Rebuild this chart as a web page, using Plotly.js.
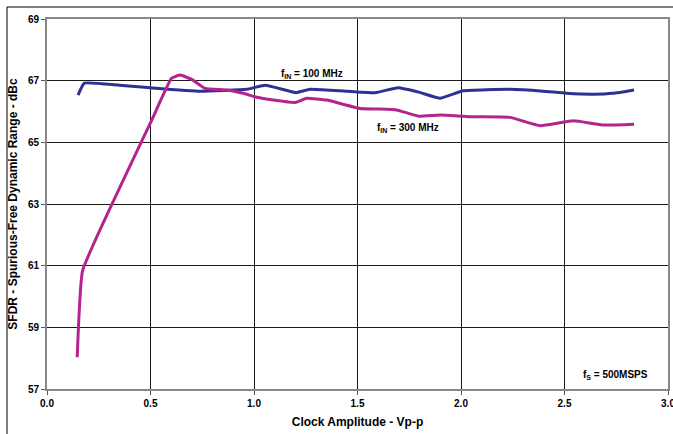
<!DOCTYPE html>
<html>
<head>
<meta charset="utf-8">
<script src="https://cdn.plot.ly/plotly-3.0.1.min.js"></script>
<style>html,body{margin:0;padding:0;background:#fff;}#chart{width:673px;height:434px;}</style>
</head>
<body>
<div id="chart"></div>
<script>
// Clock amplitude (Vp-p) and SFDR (dBc)
var x100 = [0.15, 0.18, 0.35, 0.50, 0.74, 0.965, 1.056, 1.203, 1.27, 1.415, 1.585, 1.696, 1.80, 1.899, 2.01, 2.237, 2.396, 2.51, 2.64, 2.735, 2.836];
var y100 = [66.53, 66.92, 66.85, 66.77, 66.66, 66.72, 66.85, 66.61, 66.72, 66.67, 66.61, 66.77, 66.62, 66.43, 66.67, 66.72, 66.66, 66.59, 66.56, 66.59, 66.70];
var x300 = [0.146, 0.172, 0.369, 0.506, 0.602, 0.643, 0.699, 0.763, 0.868, 0.948, 1.013, 1.093, 1.198, 1.255, 1.351, 1.512, 1.60, 1.689, 1.794, 1.899, 2.043, 2.237, 2.382, 2.543, 2.688, 2.836];
var y300 = [58.03, 60.84, 63.78, 65.72, 67.08, 67.18, 67.04, 66.75, 66.70, 66.59, 66.46, 66.37, 66.29, 66.43, 66.37, 66.10, 66.08, 66.05, 65.85, 65.89, 65.83, 65.81, 65.54, 65.70, 65.56, 65.59];
var xTicks = [0, 0.5, 1.0, 1.5, 2.0, 2.5, 3.0];
var xTickText = ['0.0', '0.5', '1.0', '1.5', '2.0', '2.5', '3.0'];
var yTicks = [57, 59, 61, 63, 65, 67, 69];

var font = 'Liberation Sans, Arial, sans-serif';
var traces = [
  {x: x100, y: y100, mode: 'lines', line: {color: '#2E3192', width: 3, shape: 'spline', smoothing: 0.35}, hoverinfo: 'skip'},
  {x: x300, y: y300, mode: 'lines', line: {color: '#B5238E', width: 3, shape: 'spline', smoothing: 0.35}, hoverinfo: 'skip'}
];
var layout = {
  width: 673, height: 434,
  margin: {l: 47, r: 5, t: 19, b: 45, pad: 0},
  paper_bgcolor: '#fff', plot_bgcolor: '#fff',
  showlegend: false,
  font: {family: font, color: '#000'},
  xaxis: {
    range: [0, 3], tickvals: xTicks, ticktext: xTickText,
    ticklabeloverflow: 'allow',
    showgrid: true, gridcolor: '#1a1a1a', gridwidth: 1,
    showline: true, linecolor: '#888', linewidth: 2, mirror: true,
    ticks: 'outside', ticklen: 4, tickcolor: '#555',
    tickfont: {family: font, size: 10, color: '#000', weight: 'bold'},
    zeroline: false,
    title: {text: '<b>Clock Amplitude - Vp-p</b>', font: {family: font, size: 12, color: '#000'}, standoff: 10}
  },
  yaxis: {
    range: [57, 69], tickvals: yTicks,
    showgrid: true, gridcolor: '#1a1a1a', gridwidth: 1,
    showline: true, linecolor: '#888', linewidth: 2, mirror: true,
    ticks: 'outside', ticklen: 4, tickcolor: '#555',
    tickfont: {family: font, size: 10, color: '#000', weight: 'bold'},
    zeroline: false,
    title: {text: '<b>SFDR - Spurious-Free Dynamic Range - dBc</b>', font: {family: font, size: 12, color: '#000'}, standoff: 8}
  },
  annotations: [
    {x: 1.28, y: 66.95, xref: 'x', yref: 'y', text: '<b>f<sub>IN</sub> = 100 MHz</b>', showarrow: false, xanchor: 'center', yanchor: 'bottom', font: {family: font, size: 10, color: '#000'}},
    {x: 1.745, y: 65.47, xref: 'x', yref: 'y', text: '<b>f<sub>IN</sub> = 300 MHz</b>', showarrow: false, xanchor: 'center', yanchor: 'middle', font: {family: font, size: 10, color: '#000'}},
    {x: 2.745, y: 57.45, xref: 'x', yref: 'y', text: '<b>f<sub>S</sub> = 500MSPS</b>', showarrow: false, xanchor: 'center', yanchor: 'middle', font: {family: font, size: 10, color: '#000'}}
  ],
  shapes: [
    {type: 'line', xref: 'paper', yref: 'paper', x0: -0.0644, x1: 1.01, y0: 1.0324, y1: 1.0324, line: {color: '#000', width: 1}},
    {type: 'line', xref: 'paper', yref: 'paper', x0: -0.0644, x1: -0.0644, y0: 1.0324, y1: -0.13, line: {color: '#000', width: 1}}
  ]
};
Plotly.newPlot('chart', traces, layout, {staticPlot: true, displayModeBar: false});
</script>
</body>
</html>
